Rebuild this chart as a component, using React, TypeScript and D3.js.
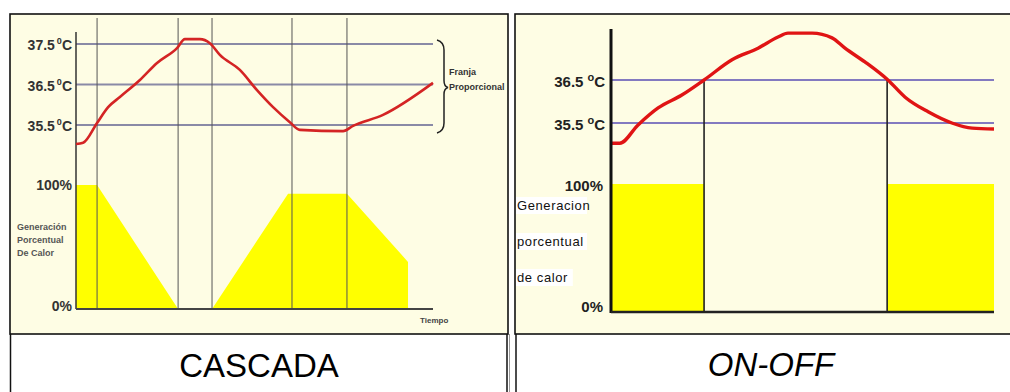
import React from "react";
import * as d3 from "d3";

// ---- CASCADA panel data ----
const cascadaTime = [0, 2, 5.9, 9, 12.3, 17.9, 22.7, 28.3, 30.5, 34.7, 37.5, 40.3, 45.9, 50.7, 55.2, 59.9, 62.7, 74.8, 77.6, 86, 100];
const cascadaTemp = [35.03, 35.06, 35.55, 35.94, 36.19, 36.61, 37.03, 37.4, 37.62, 37.62, 37.52, 37.23, 36.86, 36.36, 35.94, 35.57, 35.38, 35.35, 35.48, 35.75, 36.54];
const cascadaHeatTime = [0, 5.9, 28.6, 38.1, 59.4, 75.9, 93, 93];
const cascadaHeat = [100, 100, 0, 0, 93, 93, 38, 0];
const cascadaMarks = [5.9, 28.6, 38.1, 60.5, 75.9];
const cascadaTempTicks = [37.5, 36.5, 35.5];
const cascadaTempLabels = ["37.5", "36.5", "35.5"];
const cascadaHeatTicks = [100, 0];
const cascadaHeatLabels = ["100%", "0%"];
const cascadaYTitle = ["Generación", "Porcentual", "De Calor"];
const cascadaBand = ["Franja", "Proporcional"];
const cascadaXTitle = "Tiempo";

// ---- ON-OFF panel data ----
const onoffTime = [0, 2.3, 7, 12.3, 18.5, 24.3, 31.6, 38.4, 43.6, 46.2, 52.5, 57.7, 61.1, 66.3, 72.3, 76.8, 82.8, 89, 94.3, 100];
const onoffTemp = [35.03, 35.03, 35.45, 35.85, 36.15, 36.5, 36.97, 37.24, 37.5, 37.59, 37.59, 37.48, 37.24, 36.92, 36.5, 36.1, 35.76, 35.5, 35.38, 35.36];
const onoffHeatTime = [0, 24.3, 24.3, 72.1, 72.1, 100];
const onoffHeat = [100, 100, 0, 0, 100, 100];
const onoffMarks = [24.3, 72.1];
const onoffTempTicks = [36.5, 35.5];
const onoffTempLabels = ["36.5", "35.5"];
const onoffHeatTicks = [100, 0];
const onoffHeatLabels = ["100%", "0%"];
const onoffYTitle = ["Generacion", "porcentual", "de calor"];

const captions = ["CASCADA", "ON-OFF"];

const NARROW = "'Liberation Sans Narrow', 'Arial Narrow', 'Liberation Sans', Arial, sans-serif";
const SANS = "'Liberation Sans', Arial, Helvetica, sans-serif";

function Cascada() {
  const x = d3.scaleLinear().domain([0, 100]).range([76, 433]);
  const t = d3.scaleLinear().domain([35.5, 37.5]).range([125, 44]);
  const p = d3.scaleLinear().domain([0, 100]).range([309, 185]);
  const tempPts = cascadaTime.map((v, i) => [v, cascadaTemp[i]] as [number, number]);
  const heatPts = cascadaHeatTime.map((v, i) => [v, cascadaHeat[i]] as [number, number]);
  const line = d3.line<[number, number]>().x(d => x(d[0])).y(d => t(d[1])).curve(d3.curveMonotoneX);
  const area = d3.area<[number, number]>().x(d => x(d[0])).y0(p(0)).y1(d => p(d[1]));
  const tTop = t(37.5), tBot = t(35.5), tMid = t(36.5);
  const bx = x(100) + 4;
  return (
    <g>
      <rect x={10} y={14} width={498} height={320} fill="#fefde4" stroke="#111" strokeWidth={1.6} />
      <path d={area(heatPts) || ""} fill="#ffff00" />
      {cascadaTempTicks.map((v) => (
        <line key={v} x1={x(0)} x2={x(100)} y1={t(v)} y2={t(v)} stroke="#8a8aa6" strokeWidth={1.8} />
      ))}
      {cascadaMarks.map((m) => (
        <line key={m} x1={x(m)} x2={x(m)} y1={18} y2={p(0)} stroke="#555" strokeWidth={1} />
      ))}
      <line x1={x(0)} x2={x(0)} y1={32} y2={p(0)} stroke="#333" strokeWidth={1.5} />
      <line x1={x(0)} x2={x(100)} y1={p(0)} y2={p(0)} stroke="#444" strokeWidth={2} />
      <path d={line(tempPts) || ""} fill="none" stroke="#d42424" strokeWidth={2.6} strokeLinejoin="round" />
      {cascadaTempTicks.map((v, i) => (
        <text key={v} x={72} y={t(v) + 6} textAnchor="end" fontFamily={NARROW} fontWeight="bold" fontSize={14} fill="#333">
          {cascadaTempLabels[i]}
          <tspan dx={2} dy={-6} fontSize={9}>0</tspan>
          <tspan dy={6}>C</tspan>
        </text>
      ))}
      {cascadaHeatTicks.map((v, i) => (
        <text key={v} x={72} y={p(v) + (v === 0 ? 2 : 5)} textAnchor="end" fontFamily={NARROW} fontWeight="bold" fontSize={14} fill="#333">
          {cascadaHeatLabels[i]}
        </text>
      ))}
      {cascadaYTitle.map((s, i) => (
        <text key={s} x={17} y={230 + i * 13} fontFamily={NARROW} fontWeight="bold" fontSize={9} fill="#555">{s}</text>
      ))}
      <path
        d={`M${bx},${tTop - 4} Q${bx + 7},${tTop - 2} ${bx + 7},${tTop + 6} L${bx + 7},${tMid - 4} Q${bx + 7},${tMid + 2} ${bx + 11},${tMid + 3} Q${bx + 7},${tMid + 4} ${bx + 7},${tMid + 10} L${bx + 7},${tBot - 2} Q${bx + 7},${tBot + 6} ${bx},${tBot + 8}`}
        fill="none" stroke="#222" strokeWidth={1.5}
      />
      {cascadaBand.map((s, i) => (
        <text key={s} x={449} y={75 + i * 15} fontFamily={NARROW} fontWeight="bold" fontSize={9} fill="#333">{s}</text>
      ))}
      <text x={420} y={323} fontFamily={NARROW} fontWeight="bold" fontSize={8} fill="#444">{cascadaXTitle}</text>
    </g>
  );
}

function OnOff() {
  const x = d3.scaleLinear().domain([0, 100]).range([611, 994]);
  const t = d3.scaleLinear().domain([35.5, 36.5]).range([123, 80]);
  const p = d3.scaleLinear().domain([0, 100]).range([312, 184]);
  const tempPts = onoffTime.map((v, i) => [v, onoffTemp[i]] as [number, number]);
  const heatPts = onoffHeatTime.map((v, i) => [v, onoffHeat[i]] as [number, number]);
  const line = d3.line<[number, number]>().x(d => x(d[0])).y(d => t(d[1])).curve(d3.curveMonotoneX);
  const area = d3.area<[number, number]>().x(d => x(d[0])).y0(p(0)).y1(d => p(d[1]));
  return (
    <g>
      <rect x={515} y={14} width={511} height={320} fill="#fefde4" stroke="#111" strokeWidth={1.6} />
      <path d={area(heatPts) || ""} fill="#ffff00" />
      {onoffTempTicks.map((v) => (
        <line key={v} x1={x(0)} x2={x(100)} y1={t(v)} y2={t(v)} stroke="#5a4eb4" strokeWidth={1.5} />
      ))}
      {onoffMarks.map((m) => (
        <line key={m} x1={x(m)} x2={x(m)} y1={t(36.5)} y2={p(0)} stroke="#222" strokeWidth={1.6} />
      ))}
      <path d={line(tempPts) || ""} fill="none" stroke="#e01414" strokeWidth={3.4} strokeLinejoin="round" />
      <line x1={x(0)} x2={x(0)} y1={29} y2={p(0) + 1} stroke="#111" strokeWidth={3} />
      <line x1={x(0)} x2={x(100)} y1={p(0)} y2={p(0)} stroke="#222" strokeWidth={2.6} />
      {onoffTempTicks.map((v, i) => (
        <text key={v} x={605} y={t(v) + 7} textAnchor="end" fontFamily={SANS} fontWeight="bold" fontSize={15} fill="#222">
          {onoffTempLabels[i]}
          <tspan dx={4} dy={-6} fontSize={11}>o</tspan>
          <tspan dy={6}>C</tspan>
        </text>
      ))}
      {onoffHeatTicks.map((v, i) => (
        <text key={v} x={603} y={p(v) + (v === 0 ? 0 : 7)} textAnchor="end" fontFamily={SANS} fontWeight="bold" fontSize={15} fill="#222">
          {onoffHeatLabels[i]}
        </text>
      ))}
      {onoffYTitle.map((s, i) => (
        <g key={s}>
          <rect x={516} y={197 + i * 36} width={s.length * 7.1} height={17} fill="#ffffff" />
          <text x={517} y={210 + i * 36} fontFamily={NARROW} fontSize={13} letterSpacing={0.6} fill="#111">{s}</text>
        </g>
      ))}
    </g>
  );
}

export default function App() {
  return (
    <svg width={1010} height={392} viewBox="0 0 1010 392" style={{ position: "absolute", left: 0, top: 0, background: "#fff" }}>
      <rect x={0} y={0} width={1010} height={392} fill="#fff" />
      <Cascada />
      <OnOff />
      {/* lower caption cells */}
      <line x1={10.5} x2={10.5} y1={334} y2={392} stroke="#111" strokeWidth={1.5} />
      <line x1={507} x2={507} y1={334} y2={392} stroke="#111" strokeWidth={1.5} />
      <line x1={509.5} x2={509.5} y1={334} y2={392} stroke="#999" strokeWidth={1} />
      <line x1={516} x2={516} y1={334} y2={392} stroke="#111" strokeWidth={1.5} />
      <text x={259} y={377} textAnchor="middle" fontFamily={SANS} fontSize={33} fill="#000">{captions[0]}</text>
      <text x={771} y={376} textAnchor="middle" fontFamily={SANS} fontStyle="italic" fontSize={33} fill="#000">{captions[1]}</text>
    </svg>
  );
}
